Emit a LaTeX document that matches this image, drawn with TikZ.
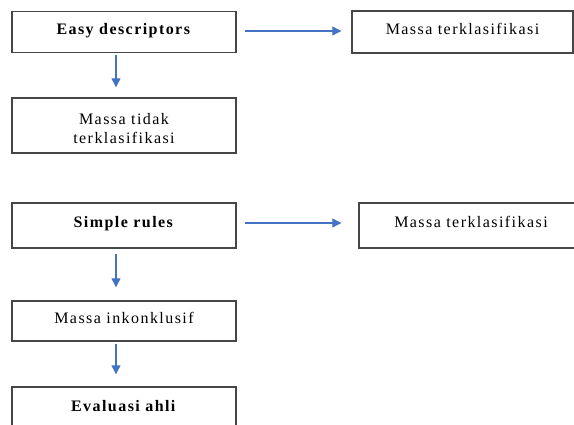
\documentclass[tikz,border=0pt]{standalone}
\usepackage{fontspec}
\setmainfont{Liberation Serif}[LetterSpace=9]
\usetikzlibrary{arrows.meta}

\definecolor{flowblue}{RGB}{68, 114, 196}
\definecolor{boxgray}{RGB}{70, 70, 70}

\tikzset{
  box/.style={draw=boxgray, line width=1.4pt, minimum width=224pt,
    inner sep=0pt, font=\fontsize{16}{19}\selectfont, align=center,
    text depth=7pt},
  flow/.style={flowblue, line width=1.2pt, -{Triangle[length=9pt,width=9pt]}}
}

\begin{document}
\begin{tikzpicture}[x=1pt, y=-1pt]
      \useasboundingbox (0,0) rectangle (574,425);

      % left column
      \node[box, minimum height=41pt] (easy) at (124, 32) {\textbf{Easy descriptors}};
      \node[box, minimum height=55pt, text height=36pt, text depth=0pt] (tidak) at (124, 125.5) {Massa tidak\\terklasifikasi};
      \node[box, minimum height=45pt] (simple) at (124, 225.5) {\textbf{Simple rules}};
      \node[box, minimum height=40pt] (inkon) at (124, 321) {Massa inkonklusif};
      \node[box, minimum height=45pt] (eval) at (124, 409.5) {\textbf{Evaluasi ahli}};

      % right column
      \node[box, minimum width=221pt, minimum height=42pt] (kelas1) at (462.5, 32) {Massa terklasifikasi};
      \node[box, minimum height=45pt] (kelas2) at (471, 225.5) {Massa terklasifikasi};

      % horizontal arrows
      \draw[flow, shorten <=8pt, shorten >=10pt] ([yshift=1pt]easy.east) -- ([yshift=1pt]easy.east -| kelas1.west);
      \draw[flow, shorten <=8pt, shorten >=17pt] ([yshift=2.5pt]simple.east) -- ([yshift=2.5pt]simple.east -| kelas2.west);

      % vertical arrows
      \draw[flow, shorten <=2pt, shorten >=10pt] ([xshift=-8pt]easy.south) -- ([xshift=-8pt]easy.south |- tidak.north);
      \draw[flow, shorten <=5pt, shorten >=13pt] ([xshift=-8pt]simple.south) -- ([xshift=-8pt]simple.south |- inkon.north);
      \draw[flow, shorten <=2pt, shorten >=12pt] ([xshift=-8pt]inkon.south) -- ([xshift=-8pt]inkon.south |- eval.north);
\end{tikzpicture}
\end{document}
